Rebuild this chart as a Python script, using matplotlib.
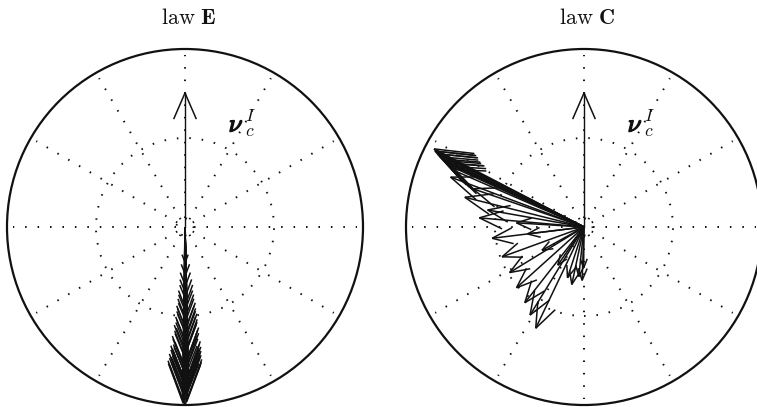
import numpy as np
import matplotlib.pyplot as plt
from matplotlib.collections import LineCollection
from matplotlib.patches import Circle
from matplotlib import patheffects

plt.rcParams['mathtext.fontset'] = 'cm'

# vector directions (degrees, counter-clockwise from +x) and lengths (fraction of outer radius)
e_angle = [270.0, 269.4, 270.6, 269.1, 270.9, 269.6, 270.3, 270.8, 269.3, 270.5,
           271.0, 269.8, 270.4, 271.2, 269.5, 270.7, 271.3, 270.2, 269.7, 271.0,
           270.6, 271.4, 270.1, 270.9, 271.2, 270.4, 271.5, 270.8, 271.1, 270.3,
           271.4, 270.7, 271.0, 270.5, 271.2, 270.9, 270.4, 270.6, 270.2, 270.0]
e_length = [1.00, 0.99, 0.98, 0.97, 0.96, 0.95, 0.94, 0.93, 0.92, 0.91,
            0.90, 0.89, 0.88, 0.87, 0.86, 0.85, 0.83, 0.81, 0.79, 0.77,
            0.75, 0.73, 0.71, 0.69, 0.67, 0.65, 0.63, 0.61, 0.59, 0.57,
            0.55, 0.52, 0.49, 0.46, 0.42, 0.38, 0.33, 0.27, 0.20, 0.04]

c_angle = [152.5, 153.0, 152.8, 153.5, 153.2, 154.0, 154.3, 154.6, 155.0, 154.8,
           155.5, 156.5, 159.5, 166.0, 175.0, 187.0, 200.0, 211.5, 222.0, 232.0,
           238.5, 244.5,
           161.0, 170.0, 176.5, 187.0, 209.0, 235.5, 252.0, 258.0, 264.0, 268.0,
           269.5]
c_length = [0.95, 0.94, 0.93, 0.92, 0.91, 0.90, 0.88, 0.87, 0.85, 0.84,
            0.82, 0.81, 0.80, 0.69, 0.59, 0.52, 0.49, 0.49, 0.51, 0.54,
            0.58, 0.63,
            0.66, 0.55, 0.38, 0.32, 0.27, 0.26, 0.30, 0.33, 0.28, 0.30,
            0.23]

titles = [r'$\mathrm{law}\ \mathbf{E}$', r'$\mathrm{law}\ \mathbf{C}$']

INK = '#111111'


def arrow_segments(angles, lengths, head_frac=0.24, head_deg=21.0):
    th = np.deg2rad(np.asarray(angles, float))
    L = np.asarray(lengths, float)
    tip = np.column_stack([L * np.cos(th), L * np.sin(th)])
    segs = []
    for (tx, ty), t, l in zip(tip, th, L):
        segs.append([(0, 0), (tx, ty)])
        h = head_frac * l
        for s in (1, -1):
            a = t + np.pi + s * np.deg2rad(head_deg)
            segs.append([(tx, ty), (tx + h * np.cos(a), ty + h * np.sin(a))])
    return segs


def dial(ax):
    dots = (0, (0.8, 5.6))
    ax.add_patch(Circle((0, 0), 1.0, fill=False, lw=1.6, color=INK, clip_on=False))
    for r in (0.048, 0.5):
        ax.add_patch(Circle((0, 0), r, fill=False, lw=1.4, ls=dots, color=INK, clip_on=False))
    for a in np.deg2rad(np.arange(0, 360, 30)):
        ax.plot([0.05 * np.cos(a), 0.965 * np.cos(a)], [0.05 * np.sin(a), 0.965 * np.sin(a)],
                ls=dots, lw=1.4, color=INK, clip_on=False)
    # reference direction
    ax.plot([0, 0], [0, 0.753], color=INK, lw=1.0, clip_on=False)
    ax.plot([-0.062, 0, 0.062], [0.61, 0.753, 0.61], color=INK, lw=1.1, clip_on=False)
    ax.text(0.245, 0.535, r'$\nu$', fontsize=18, ha='left', va='baseline', color=INK,
            path_effects=[patheffects.withStroke(linewidth=1.0, foreground=INK)])
    ax.text(0.33, 0.535, r'${}_c^I$', fontsize=18, ha='left', va='baseline', color=INK)


W, H = 757, 407
R = 178
fig = plt.figure(figsize=(W / 100, H / 100), dpi=100)

centers = [(185, 227), (584, 227)]
data = [(e_angle, e_length), (c_angle, c_length)]
for (cx, cy), (ang, ln), title in zip(centers, data, titles):
    ax = fig.add_axes([(cx - R) / W, (H - cy - R) / H, 2 * R / W, 2 * R / H])
    ax.set_xlim(-1, 1)
    ax.set_ylim(-1, 1)
    ax.set_aspect('equal')
    ax.axis('off')
    dial(ax)
    ax.add_collection(LineCollection(arrow_segments(ang, ln), colors=INK, linewidths=1.1,
                                     clip_on=False))
    ax.text(0.02, 1.175, title, fontsize=16, ha='center', va='center', color=INK)

fig.savefig('out.png', dpi=100)
